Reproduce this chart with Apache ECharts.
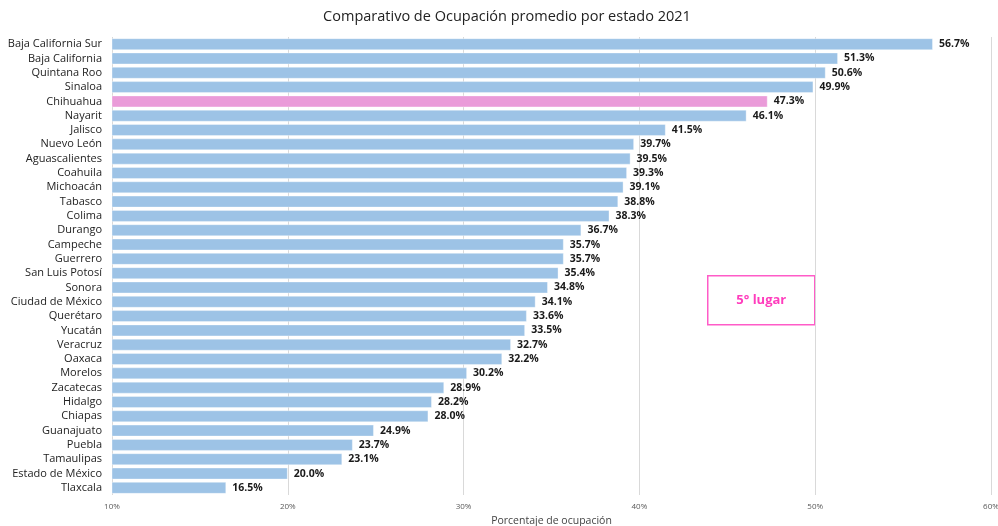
<!DOCTYPE html>
<html>
<head>
<meta charset="utf-8">
<script src="https://cdn.jsdelivr.net/npm/echarts@6/dist/echarts.min.js"></script>
<style>
html,body{margin:0;padding:0;background:#fff;}
#c{width:998px;height:526px;}
</style>
</head>
<body>
<div id="c"></div>
<script>
const categories = ["Baja California Sur","Baja California","Quintana Roo","Sinaloa","Chihuahua","Nayarit","Jalisco","Nuevo León","Aguascalientes","Coahuila","Michoacán","Tabasco","Colima","Durango","Campeche","Guerrero","San Luis Potosí","Sonora","Ciudad de México","Querétaro","Yucatán","Veracruz","Oaxaca","Morelos","Zacatecas","Hidalgo","Chiapas","Guanajuato","Puebla","Tamaulipas","Estado de México","Tlaxcala"];
const values = [56.7,51.3,50.6,49.9,47.3,46.1,41.5,39.7,39.5,39.3,39.1,38.8,38.3,36.7,35.7,35.7,35.4,34.8,34.1,33.6,33.5,32.7,32.2,30.2,28.9,28.2,28.0,24.9,23.7,23.1,20.0,16.5];
const highlight = "Chihuahua";
const titleText = "Comparativo de Ocupación promedio por estado 2021";
const axisName = "Porcentaje de ocupación";
const noteText = "5° lugar";

const font = "'Open Sans', 'Noto Sans', sans-serif";
const chart = echarts.init(document.getElementById('c'), null, {renderer: 'canvas'});
chart.setOption({
  animation: false,
  backgroundColor: '#fff',
  title: {
    text: titleText, left: 502, top: 4, textAlign: 'center',
    textStyle: {fontFamily: font, fontSize: 14.5, fontWeight: 'normal', color: '#222'}
  },
  grid: {left: 112, right: 7, top: 37, bottom: 31, containLabel: false, outerBoundsMode: 'none'},
  xAxis: {
    type: 'value', min: 10, max: 60, interval: 10,
    name: axisName, nameLocation: 'middle', nameGap: 20,
    nameTextStyle: {fontFamily: font, fontSize: 10.5, color: '#444'},
    axisLine: {show: false}, axisTick: {show: false},
    axisLabel: {formatter: v => v + '%', fontFamily: font, fontSize: 8, color: '#595959', margin: 8},
    splitLine: {show: true, lineStyle: {color: '#d9d9d9', width: 1}}
  },
  yAxis: {
    type: 'category', data: categories, inverse: true,
    axisLine: {show: false}, axisTick: {show: false},
    axisLabel: {fontFamily: font, fontSize: 11, color: '#222', margin: 10}
  },
  series: [{
    type: 'bar',
    data: values.map((v, i) => ({
      value: v,
      itemStyle: {color: categories[i] === highlight ? '#EA9BD9' : '#9DC3E6'}
    })),
    barCategoryGap: '16%',
    itemStyle: {borderColor: 'rgba(255,255,255,0.35)', borderWidth: 1},
    label: {
      show: true, position: 'right', distance: 6,
      formatter: p => p.value.toFixed(1) + '%',
      fontFamily: font, fontSize: 10.5, fontWeight: 'bold', color: '#1a1a1a'
    }
  }],
  graphic: [{
    type: 'group', left: 707, top: 275,
    children: [
      {type: 'rect', shape: {x: 0, y: 0, width: 107, height: 49},
       style: {fill: '#fff', stroke: '#FF5CC8', lineWidth: 1.5}},
      {type: 'text', x: 53.5, y: 24.5,
       style: {text: noteText, fill: '#FF3DBD', font: 'bold 13px ' + font, align: 'center', verticalAlign: 'middle'}}
    ]
  }]
});
</script>
</body>
</html>
